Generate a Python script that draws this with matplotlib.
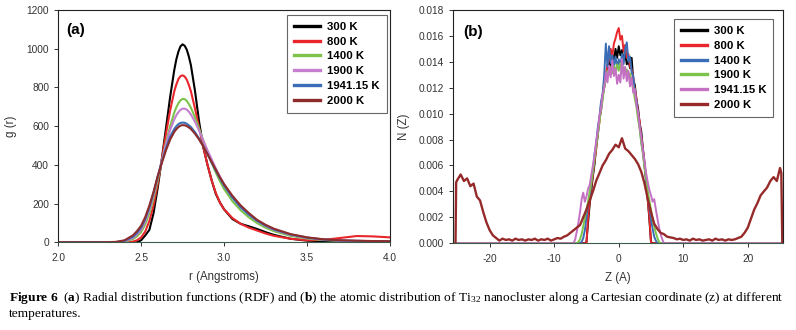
import numpy as np
import matplotlib
matplotlib.use("Agg")
import matplotlib.pyplot as plt

plt.rcParams['font.family'] = ['Liberation Sans', 'DejaVu Sans']
plt.rcParams['axes.unicode_minus'] = False
plt.rcParams['mathtext.fontset'] = 'custom'
plt.rcParams['mathtext.rm'] = 'Liberation Serif'
plt.rcParams['mathtext.bf'] = 'Liberation Serif:bold'
plt.rcParams['mathtext.it'] = 'Liberation Serif:italic'

# ---- panel (a): radial distribution function g(r) ----
r_vals = [2.0, 2.3, 2.35, 2.4, 2.45, 2.475, 2.5, 2.525, 2.55, 2.575, 2.6, 2.625, 2.65, 2.675,
          2.7, 2.7125, 2.725, 2.7375, 2.75, 2.7625, 2.775, 2.7875, 2.8, 2.825, 2.85, 2.875,
          2.9, 2.925, 2.95, 2.975, 3.0, 3.05, 3.1, 3.15, 3.2, 3.25, 3.3, 3.4, 3.5, 3.6, 3.7,
          3.8, 3.9, 4.0]

g_300 = [0, 0, 0, 0, 0, 0, 10, 35, 64, 150, 280, 430, 590, 750, 890, 945, 985, 1012, 1022,
         1015, 995, 960, 915, 780, 620, 490, 400, 320, 250, 205, 170, 120, 95, 82, 68, 52, 38,
         18, 8, 5, 4, 3, 3, 2]
g_800 = [0, 0, 0, 0, 3, 10, 25, 55, 110, 190, 300, 430, 560, 680, 780, 815, 843, 858, 862,
         856, 840, 813, 780, 690, 590, 490, 400, 320, 255, 205, 170, 125, 95, 75, 60, 45, 33,
         18, 10, 12, 22, 32, 30, 25]
g_1400 = [0, 0, 0, 3, 16, 30, 52, 92, 150, 228, 320, 420, 515, 600, 670, 697, 718, 733, 740,
          739, 730, 714, 695, 645, 585, 525, 465, 410, 360, 315, 275, 212, 165, 128, 98, 75,
          57, 33, 19, 11, 7, 5, 4, 3]
g_1900 = [0, 0, 0, 5, 22, 40, 65, 108, 168, 245, 335, 420, 505, 580, 635, 656, 672, 684, 690,
          690, 685, 674, 660, 622, 575, 525, 475, 428, 382, 340, 300, 235, 183, 143, 110, 84,
          64, 38, 22, 13, 8, 6, 4, 3]
g_1941 = [0, 0, 1, 7, 28, 48, 75, 120, 180, 255, 340, 415, 485, 545, 585, 599, 610, 616, 618,
          617, 612, 604, 595, 568, 535, 495, 455, 412, 370, 330, 292, 230, 180, 142, 110, 86,
          66, 40, 24, 14, 9, 7, 5, 4]
g_2000 = [0, 0, 2, 10, 35, 57, 85, 130, 190, 260, 340, 410, 475, 530, 570, 584, 595, 602, 605,
          604, 600, 593, 585, 560, 530, 495, 455, 415, 375, 335, 300, 240, 190, 150, 115, 90,
          70, 42, 25, 15, 10, 8, 6, 5]

labels_a = ["300 K", "800 K", "1400 K", "1900 K", "1941.15 K", "2000 K"]
colors_a = ["#000000", "#e8262b", "#7dc24a", "#c47fcf", "#3a6db5", "#8e2b2b"]

# ---- panel (b): atomic distribution N(Z), values in 1e-3 ----
z_core = [-7.0, -6.75, -6.5, -6.25, -6.0, -5.75, -5.5, -5.25, -5.0, -4.75, -4.5, -4.25,
          -4.0, -3.75, -3.5, -3.25, -3.0, -2.75, -2.5, -2.25, -2.0, -1.75, -1.5, -1.25,
          -1.0, -0.75, -0.5, -0.25, 0.0, 0.25, 0.5, 0.75, 1.0, 1.25, 1.5, 1.75, 2.0, 2.25,
          2.5, 2.75, 3.0, 3.25, 3.5, 3.75, 4.0, 4.25, 4.5, 4.75, 5.0, 5.25, 5.5, 5.75, 6.0,
          6.25, 6.5, 6.75, 7.0]

n_300 = [0, 0, 0, 0, 0, 0, 0, 0, 0.1, 1.6, 3.0, 4.1, 5.2, 6.1, 7.4, 8.3, 9.6, 10.2, 11.4,
         12.0, 13.1, 13.4, 14.2, 13.6, 14.6, 14.0, 15.0, 14.3, 15.2, 14.5, 14.9, 14.1, 14.6,
         13.8, 14.1, 13.5, 14.3, 12.6, 12.2, 11.0, 10.4, 9.2, 8.6, 7.3, 6.2, 4.9, 3.4, 1.8,
         0.1, 0, 0, 0, 0, 0, 0, 0, 0]
n_800 = [0, 0, 0, 0, 0, 0, 0, 0, 0, 2.0, 3.2, 4.4, 5.3, 6.4, 7.2, 8.6, 9.3, 10.6, 11.3,
         12.4, 12.9, 13.8, 14.1, 15.0, 14.4, 15.4, 15.8, 16.3, 16.6, 15.7, 16.0, 14.8, 15.3,
         14.3, 14.6, 13.6, 13.4, 12.8, 11.8, 11.2, 10.0, 9.4, 8.1, 7.2, 6.0, 4.8, 3.3, 2.0,
         0, 0, 0, 0, 0, 0, 0, 0, 0]
n_1400 = [0, 0, 0, 0, 0, 0.1, 0.4, 1.0, 2.0, 3.0, 3.6, 4.8, 5.6, 6.9, 7.6, 8.9, 9.7, 10.9,
          11.5, 13.0, 15.4, 13.6, 15.2, 13.9, 14.5, 13.7, 14.4, 13.5, 14.2, 13.6, 14.6, 13.8,
          15.0, 15.5, 14.0, 14.4, 13.2, 12.9, 11.6, 11.0, 9.8, 9.0, 7.8, 7.0, 5.9, 4.7, 3.7,
          2.8, 1.9, 1.1, 0.5, 0.2, 0, 0, 0, 0, 0]
n_1900 = [0, 0, 0, 0.1, 0.3, 0.7, 1.3, 2.0, 2.6, 3.2, 4.0, 4.7, 5.6, 6.5, 7.5, 8.3, 9.3,
          10.3, 11.0, 12.1, 12.6, 13.3, 13.0, 13.6, 13.1, 13.7, 13.2, 13.8, 13.3, 13.9, 13.2,
          13.6, 13.0, 13.4, 12.9, 13.1, 12.4, 12.0, 11.1, 10.5, 9.5, 8.8, 7.7, 6.9, 5.8, 5.0,
          4.0, 3.3, 2.6, 1.9, 1.3, 0.8, 0.4, 0.1, 0, 0, 0]
n_1941 = [0, 0.3, 0.9, 1.6, 2.4, 3.4, 3.9, 3.2, 3.6, 4.2, 4.5, 5.3, 6.0, 6.8, 7.9, 8.6, 9.8,
          10.4, 11.5, 12.0, 13.2, 12.4, 13.7, 12.8, 14.1, 12.9, 13.5, 12.3, 13.0, 12.4, 14.2,
          12.7, 13.6, 12.5, 13.3, 12.1, 12.8, 11.6, 11.9, 10.6, 10.1, 8.9, 8.2, 7.1, 6.3, 5.4,
          4.7, 4.1, 3.7, 3.2, 3.4, 2.6, 1.9, 1.2, 0.7, 0.3, 0]

z_hot = [-25.3, -25.2, -25.0, -24.5, -24.0, -23.5, -23.0, -22.5, -22.0, -21.5, -21.0, -20.5,
         -20.0, -19.5, -19.0, -18.5, -18.0, -17.5, -17.0, -16.5, -16.0, -15.5, -15.0, -14.5,
         -14.0, -13.5, -13.0, -12.5, -12.0, -11.5, -11.0, -10.5, -10.0, -9.5, -9.0, -8.5,
         -8.0, -7.5, -7.0, -6.5, -6.0, -5.5, -5.0, -4.5, -4.0, -3.5, -3.0, -2.5, -2.0, -1.5,
         -1.0, -0.5, 0.0, 0.5, 1.0, 1.5, 2.0, 2.5, 3.0, 3.5, 4.0, 4.5, 5.0, 5.5, 6.0, 6.5,
         7.0, 7.5, 8.0, 8.5, 9.0, 9.5, 10.0, 10.5, 11.0, 11.5, 12.0, 12.5, 13.0, 13.5, 14.0,
         14.5, 15.0, 15.5, 16.0, 16.5, 17.0, 17.5, 18.0, 18.5, 19.0, 19.5, 20.0, 20.5, 21.0,
         21.5, 22.0, 22.5, 23.0, 23.5, 24.0, 24.5, 25.0, 25.2, 25.35]
n_2000 = [0, 4.7, 4.9, 5.3, 4.8, 5.0, 4.4, 4.6, 3.6, 3.3, 2.4, 1.6, 1.0, 0.6, 0.4, 0.2, 0.35,
          0.25, 0.3, 0.2, 0.35, 0.25, 0.3, 0.2, 0.3, 0.25, 0.35, 0.2, 0.3, 0.25, 0.35, 0.2, 0.3,
          0.4, 0.35, 0.5, 0.6, 0.8, 1.0, 1.2, 1.4, 2.0, 2.6, 3.3, 4.0, 4.8, 5.4, 6.0, 6.4, 6.9,
          7.2, 7.6, 7.4, 8.1, 7.3, 7.1, 6.8, 6.5, 6.1, 5.5, 4.6, 3.4, 2.4, 1.5, 1.1, 0.8, 0.7,
          0.5, 0.45, 0.4, 0.3, 0.35, 0.25, 0.3, 0.2, 0.35, 0.25, 0.3, 0.2, 0.25, 0.3, 0.2, 0.35,
          0.25, 0.3, 0.2, 0.3, 0.25, 0.3, 0.4, 0.5, 0.8, 1.2, 1.9, 2.6, 3.1, 3.7, 4.0, 4.3, 4.8,
          5.1, 4.8, 5.8, 5.4, 0]

z_edges = [-25.3, 25.3]
labels_b = ["300 K", "800 K", "1400 K", "1900 K", "1941.15 K", "2000 K"]
colors_b = ["#000000", "#e8262b", "#3a6db5", "#7dc24a", "#c471c4", "#962a2a"]

tick_color = "#333333"
fig = plt.figure(figsize=(7.96, 3.30), dpi=100)

def style_axes(ax):
    for s in ax.spines.values():
        s.set_linewidth(0.8)
        s.set_color("#222222")
    ax.spines['bottom'].set_color("#3d5c4c")
    ax.tick_params(axis='y', direction='out', length=3, width=0.7, labelsize=7.3,
                   colors=tick_color, pad=3.5)
    ax.tick_params(axis='x', direction='out', length=3, width=0.7, labelsize=7.3,
                   colors=tick_color, pad=4.5)

def add_legend(ax, anchor):
    leg = ax.legend(loc='upper right', bbox_to_anchor=anchor,
                    prop={'weight': 'bold', 'size': 8.2}, frameon=True, fancybox=False,
                    handlelength=2.3, handletextpad=0.6, labelspacing=0.42, borderpad=0.6,
                    borderaxespad=0.0, framealpha=1)
    leg.get_frame().set_edgecolor("#666666")
    leg.get_frame().set_linewidth(0.8)
    for line in leg.get_lines():
        line.set_linewidth(2.4)
    return leg

# panel (a)
ax1 = fig.add_axes([0.073, 0.266, 0.417, 0.704])
series_a = [g_300, g_800, g_1400, g_1900, g_1941, g_2000]
for g, lab, col in zip(series_a, labels_a, colors_a):
    ax1.plot(r_vals, g, color=col, lw=1.5, label=lab)
ax1.set_xlim(2.0, 4.0)
ax1.set_ylim(0, 1200)
ax1.set_xticks([2.0, 2.5, 3.0, 3.5, 4.0])
ax1.set_xticklabels(["2.0", "2.5", "3.0", "3.5", "4.0"])
ax1.set_yticks(range(0, 1201, 200))
ax1.set_xlabel("r (Angstroms)", fontsize=8.3, color=tick_color, labelpad=6)
ax1.set_ylabel("g (r)", fontsize=8.3, color=tick_color, labelpad=7)
style_axes(ax1)
ax1.text(0.025, 0.945, "(a)", transform=ax1.transAxes, fontsize=11, fontweight='bold',
         va='top', ha='left')
add_legend(ax1, (0.99, 0.978))

# panel (b)
ax2 = fig.add_axes([0.569, 0.263, 0.415, 0.707])
core = [n_300, n_800, n_1400, n_1900, n_1941]
for n, lab, col in zip(core, labels_b[:5], colors_b[:5]):
    zz = [z_edges[0]] + z_core + [z_edges[1]]
    nn = [0] + list(np.array(n) * 1e-3) + [0]
    ax2.plot(zz, nn, color=col, lw=1.4, label=lab)
ax2.plot(z_hot, np.array(n_2000) * 1e-3, color=colors_b[5], lw=1.7, label=labels_b[5])
ax2.set_xlim(-25.7, 25.5)
ax2.set_ylim(0, 0.018)
ax2.set_xticks([-20, -10, 0, 10, 20])
ax2.set_yticks(np.arange(0, 0.0181, 0.002))
ax2.yaxis.set_major_formatter(matplotlib.ticker.FormatStrFormatter('%.3f'))
ax2.set_xlabel("Z (A)", fontsize=8.3, color=tick_color, labelpad=6)
ax2.set_ylabel("N (Z)", fontsize=8.3, color=tick_color, labelpad=6)
style_axes(ax2)
ax2.text(0.03, 0.935, "(b)", transform=ax2.transAxes, fontsize=11, fontweight='bold',
         va='top', ha='left')
add_legend(ax2, (0.97, 0.96))

# caption
cap1 = (r"$\mathbf{Figure\ 6}$  ($\mathbf{a}$) Radial distribution functions (RDF) and "
        r"($\mathbf{b}$) the atomic distribution of Ti$_{\mathrm{32}}$ nanocluster along a "
        r"Cartesian coordinate (z) at different")
fig.text(0.011, 1 - 298 / 330, cap1, fontsize=9.6, family='Liberation Serif',
         va='center', ha='left')
fig.text(0.011, 1 - 314 / 330, "temperatures.", fontsize=9.6, family='Liberation Serif',
         va='center', ha='left')

fig.savefig("out.png", dpi=100)
